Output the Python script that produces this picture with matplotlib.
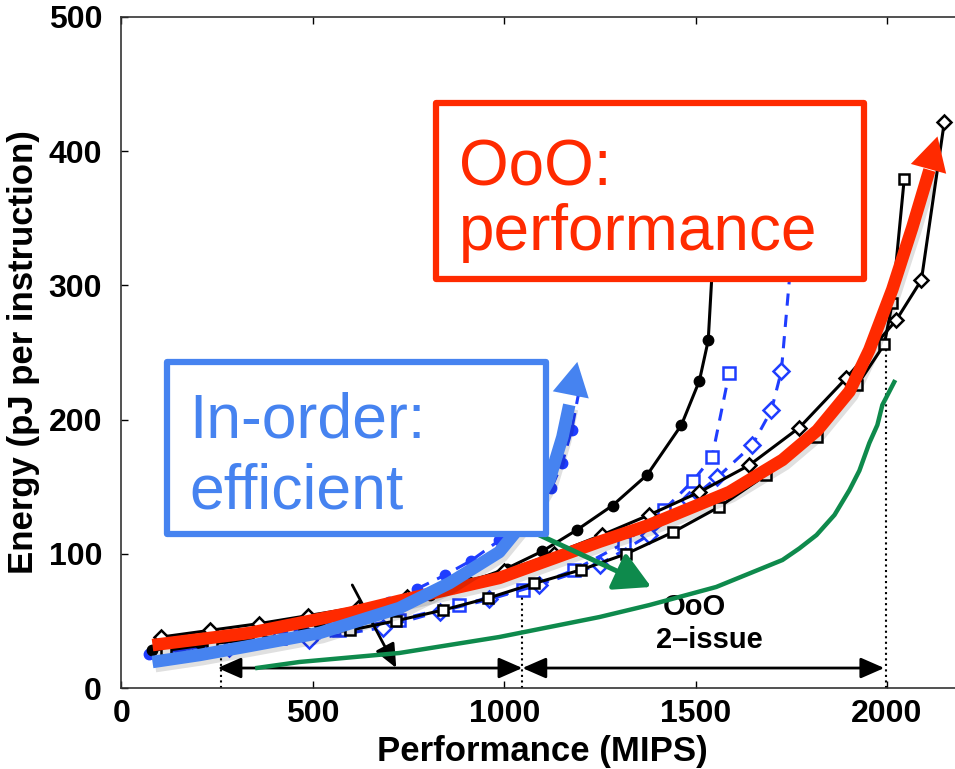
import matplotlib
matplotlib.use('Agg')
import matplotlib.pyplot as plt
import matplotlib.patheffects as pe
from matplotlib.patches import Rectangle

plt.rcParams['font.family'] = ['Liberation Sans', 'DejaVu Sans']

# ===== data =====
# OoO designs, black solid
ooo_circ_x = [81, 204, 360, 517, 674, 805, 909, 1006, 1100, 1191, 1283, 1374, 1463, 1510, 1533, 1555]
ooo_circ_y = [28, 33.5, 40, 48, 59, 69, 79, 89, 102, 118, 136, 159, 196, 229, 259, 370]
ooo_diam_x = [104, 232, 360, 488, 617, 745, 870, 1000, 1131, 1255, 1379, 1510, 1640, 1771, 1894, 2024, 2090, 2150]
ooo_diam_y = [38, 43, 48, 54, 60, 68, 77, 87, 100, 114, 129, 146, 166, 194, 231, 274, 304, 422]
ooo_sq_x = [116, 236, 356, 476, 596, 716, 839, 958, 1079, 1200, 1319, 1440, 1562, 1685, 1816, 1923, 1993, 2014, 2045]
ooo_sq_y = [28, 33, 37, 40, 43, 50, 58, 67, 78, 88, 100, 116, 135, 159, 187, 226, 256, 287, 379]

# in-order designs, blue dashed
io_circ_x = [73, 152, 308, 465, 622, 700, 773, 844, 914, 987, 1058, 1123, 1152, 1176, 1196]
io_circ_y = [25, 28, 35, 43, 55, 64, 74, 84, 95, 110, 129, 149, 168, 192, 222]
io_sq_x = [99, 256, 413, 569, 726, 883, 1048, 1183, 1314, 1418, 1492, 1543, 1588]
io_sq_y = [27, 32, 37, 43, 51, 62, 73, 88, 108, 133, 154, 172, 235]
io_diam_x = [99, 282, 491, 682, 831, 961, 1092, 1249, 1379, 1484, 1557, 1648, 1698, 1724, 1745, 1758]
io_diam_y = [25, 30, 36, 45, 57, 66, 77, 92, 114, 140, 157, 181, 207, 236, 304, 364]

# hand-drawn trend arrows
red_x = [81, 334, 596, 726, 987, 1249, 1379, 1588, 1727, 1818, 1902, 1954, 2014, 2066, 2111]
red_y = [32, 41, 56, 65, 82, 109, 121.5, 146, 170, 192, 221, 252, 297, 343, 386]
red_tip = (2132, 411)
blue_x = [81, 204, 334, 517, 726, 857, 987, 1066, 1118, 1152, 1170]
blue_y = [19.4, 24.6, 31.3, 41, 59.6, 78.2, 101.3, 128.9, 155, 187, 211]
blue_tip = (1191, 243)
green_x = [355, 465, 726, 987, 1249, 1379, 1554, 1727, 1771, 1816, 1863, 1902, 1928, 1954, 1975, 1988, 2019]
green_y = [15, 19.4, 26.1, 38, 52.9, 61.8, 75.3, 95.4, 104, 114, 129, 147.5, 162, 182.6, 196, 210.9, 228]

# range markers
dot_x = [261, 1047.5, 1998]
dot_top = [25, 68, 252]
range_y = 14.9

RED = '#FF2A00'
LBLUE = '#4683F0'
DBLUE = '#1F3DFF'
GREEN = '#0E8A4C'

fig = plt.figure(figsize=(9.55, 7.69), dpi=100)
ax = fig.add_axes([0.1272, 0.1053, 0.8817, 0.8726])

ax.plot(ooo_circ_x, ooo_circ_y, '-o', color='black', lw=2.2, ms=7.5, mfc='black', zorder=3)
ax.plot(ooo_diam_x, ooo_diam_y, '-D', color='black', lw=2.2, ms=7.5, mew=1.8, mfc='white', zorder=3)
ax.plot(ooo_sq_x, ooo_sq_y, '-s', color='black', lw=2.2, ms=7.5, mew=1.8, mfc='white', zorder=3)

dash = (0, (4, 3))
ax.plot(io_circ_x, io_circ_y, '-o', color=DBLUE, ls=dash, lw=2.2, ms=7.5, mfc=DBLUE, zorder=2)
ax.plot(io_sq_x, io_sq_y, '-s', color=DBLUE, ls=dash, lw=2.2, ms=8, mew=1.8, mfc='white', zorder=2)
ax.plot(io_diam_x, io_diam_y, '-D', color=DBLUE, ls=dash, lw=2.2, ms=8, mew=1.8, mfc='white',
        markevery=list(range(14)), zorder=2)

# dotted guides and range arrows
for x, t in zip(dot_x, dot_top):
    ax.plot([x, x], [0, t], color='black', ls=':', lw=1.5, zorder=2)
arrow_kw = dict(mutation_scale=18, color='black', lw=2, shrinkA=0, shrinkB=0)
ax.annotate('', xy=(dot_x[0] - 10, range_y), xytext=(dot_x[1], range_y),
            arrowprops=dict(arrowstyle='<|-|>,head_length=0.8,head_width=0.35', **arrow_kw), zorder=4)
ax.annotate('', xy=(dot_x[1], range_y), xytext=(dot_x[2] - 5, range_y),
            arrowprops=dict(arrowstyle='<|-|>,head_length=0.8,head_width=0.35', **arrow_kw), zorder=4)
ax.annotate('', xy=(718, 14.9), xytext=(603, 76.8),
            arrowprops=dict(arrowstyle='-|>,head_length=0.8,head_width=0.35', **arrow_kw), zorder=4)

ax.text(1497, 60.4, 'OoO', fontsize=21, fontweight='bold', ha='center', va='center', zorder=5)
ax.text(1536, 35.8, '2\u2013issue', fontsize=21, fontweight='bold', ha='center', va='center', zorder=5)

shadow = [pe.SimpleLineShadow(offset=(2, -3), shadow_color='black', alpha=0.12), pe.Normal()]

# red OoO arrow
ax.plot(red_x, red_y, color=RED, lw=9, solid_capstyle='butt', solid_joinstyle='round',
        path_effects=shadow, zorder=6)
ax.annotate('', xy=red_tip, xytext=(red_x[-2], red_y[-2]),
            arrowprops=dict(arrowstyle='-|>,head_length=1.1,head_width=0.6', mutation_scale=22,
                            color=RED, lw=0, shrinkA=0, shrinkB=0), zorder=6)
# blue in-order arrow
ax.plot(blue_x, blue_y, color=LBLUE, lw=9, solid_capstyle='butt', solid_joinstyle='round',
        path_effects=shadow, zorder=7)
ax.annotate('', xy=blue_tip, xytext=(blue_x[-2], blue_y[-2]),
            arrowprops=dict(arrowstyle='-|>,head_length=1.1,head_width=0.6', mutation_scale=22,
                            color=LBLUE, lw=0, shrinkA=0, shrinkB=0), zorder=7)
# green frontier and arrow
ax.plot(green_x, green_y, color=GREEN, lw=3.2, solid_joinstyle='round', zorder=8)
ax.annotate('', xy=(1384, 75.3), xytext=(1092, 114),
            arrowprops=dict(arrowstyle='-|>,head_length=1.0,head_width=0.55', mutation_scale=22,
                            color=GREEN, lw=3.6, shrinkA=0, shrinkB=0), zorder=8)

# annotation boxes
ax.add_patch(Rectangle((823, 304.8), 1118, 131.1, facecolor='white', edgecolor=RED, lw=4.5,
                       joinstyle='round', zorder=10, clip_on=False))
ax.text(883, 374.8, 'OoO:', color=RED, fontsize=46, ha='left', va='baseline', zorder=11)
ax.text(883, 326.4, 'performance', color=RED, fontsize=46, ha='left', va='baseline', zorder=11)

ax.add_patch(Rectangle((120, 114.8), 990, 128.1, facecolor='white', edgecolor=LBLUE, lw=4.5,
                       joinstyle='round', zorder=10, clip_on=False))
ax.text(177, 186.3, 'In-order:', color=LBLUE, fontsize=45, ha='left', va='baseline', zorder=11)
ax.text(177, 134.1, 'efficient', color=LBLUE, fontsize=45, ha='left', va='baseline', zorder=11)

# axes styling
ax.set_xlim(0, 2200)
ax.set_ylim(0, 500)
ax.set_xticks([0, 500, 1000, 1500, 2000])
ax.set_yticks([0, 100, 200, 300, 400, 500])
ax.tick_params(direction='in', length=5, width=1, top=True, right=True,
               labelsize=23, colors='black')
ax.tick_params(axis='y', pad=14)
ax.tick_params(axis='x', pad=8)
for lab in ax.get_xticklabels() + ax.get_yticklabels():
    lab.set_fontweight('bold')
for s in ax.spines.values():
    s.set_color('#333333')
    s.set_linewidth(1.2)
ax.set_xlabel('Performance (MIPS)', fontsize=25, fontweight='bold', labelpad=4)
ax.set_ylabel('Energy (pJ per instruction)', fontsize=25, fontweight='bold', labelpad=6)

fig.savefig('out.png', dpi=100, facecolor='white')
